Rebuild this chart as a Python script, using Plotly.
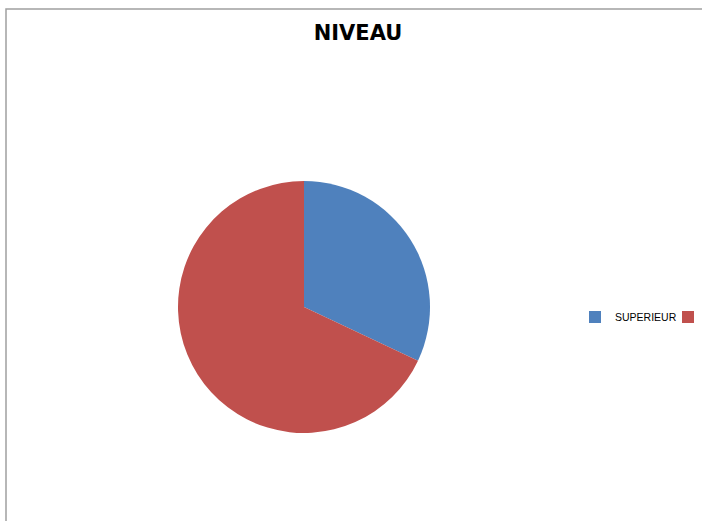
import plotly.graph_objects as go

labels = ["SUPERIEUR", " "]
values = [32, 68]
colors = ["#4F81BD", "#C0504D"]

W, H = 702, 521
cx, cy, r = 304, 307, 126

fig = go.Figure(go.Pie(
    labels=labels,
    values=values,
    marker=dict(colors=colors, line=dict(width=0)),
    textinfo="none",
    hoverinfo="label+percent",
    sort=False,
    direction="clockwise",
    rotation=0,
    domain=dict(x=[(cx - r) / W, (cx + r) / W],
                y=[(H - cy - r) / H, (H - cy + r) / H]),
))

fig.update_layout(
    width=W, height=H,
    margin=dict(l=0, r=0, t=0, b=0, autoexpand=False),
    paper_bgcolor="white",
    title=dict(text="<b>NIVEAU</b>", x=358 / W, xanchor="center",
               y=1 - 33 / H, yanchor="middle",
               font=dict(family="DejaVu Sans, sans-serif", size=21, color="black")),
    legend=dict(orientation="h", x=575 / W, xanchor="left", y=1 - 317 / H, yanchor="middle",
                font=dict(family="Liberation Sans, sans-serif", size=10.5, color="black"),
                entrywidth=48, entrywidthmode="pixels", itemwidth=30,
                bgcolor="rgba(0,0,0,0)"),
    showlegend=True,
    shapes=[dict(type="rect", xref="paper", yref="paper",
                 x0=6 / W, x1=1.01, y0=-0.01, y1=1 - 9 / H,
                 line=dict(color="#a0a0a0", width=1.5), fillcolor="rgba(0,0,0,0)", layer="below")],
)

fig.write_html("out.html", config={"displayModeBar": False},
               post_script="document.body.style.margin='0';")
